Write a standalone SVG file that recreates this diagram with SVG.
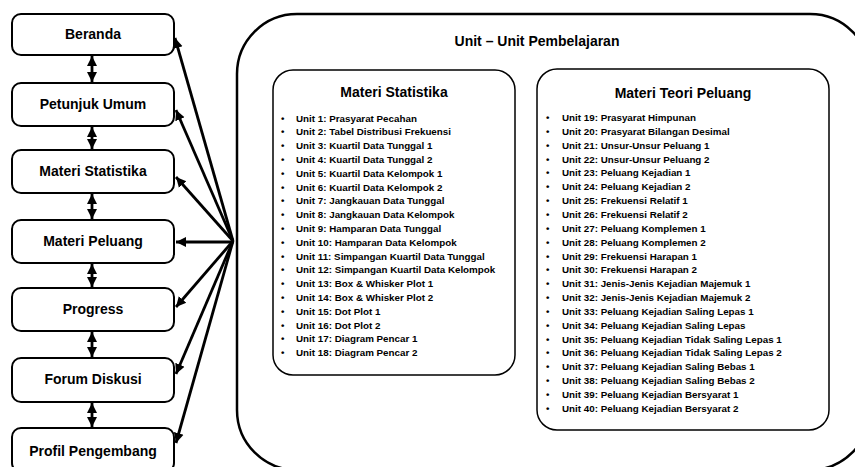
<svg xmlns="http://www.w3.org/2000/svg" width="855" height="467" viewBox="0 0 855 467">
<style>
.node{fill:#fff;stroke:#000;stroke-width:2}
.lbl{font-family:"Liberation Sans",Arial,sans-serif;font-weight:bold;font-size:14px;fill:#000;text-anchor:middle}
.big{fill:#fff;stroke:#000;stroke-width:2.5}
.inner{fill:#fff;stroke:#000;stroke-width:1.5}
.ttl{font-family:"Liberation Sans",Arial,sans-serif;font-weight:bold;font-size:14px;fill:#000;text-anchor:middle}
.li{font-family:"Liberation Sans",Arial,sans-serif;font-weight:bold;font-size:9.8px;fill:#000}
.conn{stroke:#000;stroke-width:2.8;fill:none}
</style>
<defs>
<marker id="ah" markerUnits="userSpaceOnUse" markerWidth="12" markerHeight="12" viewBox="0 0 12 12" refX="10" refY="6" orient="auto-start-reverse">
<path d="M0,1 L10,6 L0,11 Z" fill="#000"/>
</marker>
</defs>
<rect width="855" height="467" fill="#fff"/>

<g id="units">
<rect class="big" x="237" y="14" width="633" height="456" rx="60" ry="60"/>
<text class="ttl" x="537" y="46">Unit – Unit Pembelajaran</text>
</g>

<g id="materi-statistika-box">
<rect class="inner" x="273" y="70" width="242" height="305" rx="20" ry="20"/>
<text class="ttl" x="394" y="97">Materi Statistika</text>
<g class="li">
<text x="281" y="121.5">•</text><text x="296" y="121.5">Unit 1: Prasyarat Pecahan</text>
<text x="281" y="135.3">•</text><text x="296" y="135.3">Unit 2: Tabel Distribusi Frekuensi</text>
<text x="281" y="149.1">•</text><text x="296" y="149.1">Unit 3: Kuartil Data Tunggal 1</text>
<text x="281" y="162.9">•</text><text x="296" y="162.9">Unit 4: Kuartil Data Tunggal 2</text>
<text x="281" y="176.7">•</text><text x="296" y="176.7">Unit 5: Kuartil Data Kelompok 1</text>
<text x="281" y="190.5">•</text><text x="296" y="190.5">Unit 6: Kuartil Data Kelompok 2</text>
<text x="281" y="204.3">•</text><text x="296" y="204.3">Unit 7: Jangkauan Data Tunggal</text>
<text x="281" y="218.1">•</text><text x="296" y="218.1">Unit 8: Jangkauan Data Kelompok</text>
<text x="281" y="231.9">•</text><text x="296" y="231.9">Unit 9: Hamparan Data Tunggal</text>
<text x="281" y="245.7">•</text><text x="296" y="245.7">Unit 10: Hamparan Data Kelompok</text>
<text x="281" y="259.5">•</text><text x="296" y="259.5">Unit 11: Simpangan Kuartil Data Tunggal</text>
<text x="281" y="273.3">•</text><text x="296" y="273.3">Unit 12: Simpangan Kuartil Data Kelompok</text>
<text x="281" y="287.1">•</text><text x="296" y="287.1">Unit 13: Box &amp; Whisker Plot 1</text>
<text x="281" y="300.9">•</text><text x="296" y="300.9">Unit 14: Box &amp; Whisker Plot 2</text>
<text x="281" y="314.7">•</text><text x="296" y="314.7">Unit 15: Dot Plot 1</text>
<text x="281" y="328.5">•</text><text x="296" y="328.5">Unit 16: Dot Plot 2</text>
<text x="281" y="342.3">•</text><text x="296" y="342.3">Unit 17: Diagram Pencar 1</text>
<text x="281" y="356.1">•</text><text x="296" y="356.1">Unit 18: Diagram Pencar 2</text>
</g>
</g>

<g id="materi-teori-peluang-box">
<rect class="inner" x="537" y="69" width="292" height="361" rx="20" ry="20"/>
<text class="ttl" x="683" y="98">Materi Teori Peluang</text>
<g class="li">
<text x="546" y="121">•</text><text x="562" y="121">Unit 19: Prasyarat Himpunan</text>
<text x="546" y="134.85">•</text><text x="562" y="134.85">Unit 20: Prasyarat Bilangan Desimal</text>
<text x="546" y="148.7">•</text><text x="562" y="148.7">Unit 21: Unsur-Unsur Peluang 1</text>
<text x="546" y="162.55">•</text><text x="562" y="162.55">Unit 22: Unsur-Unsur Peluang 2</text>
<text x="546" y="176.4">•</text><text x="562" y="176.4">Unit 23: Peluang Kejadian 1</text>
<text x="546" y="190.25">•</text><text x="562" y="190.25">Unit 24: Peluang Kejadian 2</text>
<text x="546" y="204.1">•</text><text x="562" y="204.1">Unit 25: Frekuensi Relatif 1</text>
<text x="546" y="217.95">•</text><text x="562" y="217.95">Unit 26: Frekuensi Relatif 2</text>
<text x="546" y="231.8">•</text><text x="562" y="231.8">Unit 27: Peluang Komplemen 1</text>
<text x="546" y="245.65">•</text><text x="562" y="245.65">Unit 28: Peluang Komplemen 2</text>
<text x="546" y="259.5">•</text><text x="562" y="259.5">Unit 29: Frekuensi Harapan 1</text>
<text x="546" y="273.35">•</text><text x="562" y="273.35">Unit 30: Frekuensi Harapan 2</text>
<text x="546" y="287.2">•</text><text x="562" y="287.2">Unit 31: Jenis-Jenis Kejadian Majemuk 1</text>
<text x="546" y="301.05">•</text><text x="562" y="301.05">Unit 32: Jenis-Jenis Kejadian Majemuk 2</text>
<text x="546" y="314.9">•</text><text x="562" y="314.9">Unit 33: Peluang Kejadian Saling Lepas 1</text>
<text x="546" y="328.75">•</text><text x="562" y="328.75">Unit 34: Peluang Kejadian Saling Lepas</text>
<text x="546" y="342.6">•</text><text x="562" y="342.6">Unit 35: Peluang Kejadian Tidak Saling Lepas 1</text>
<text x="546" y="356.45">•</text><text x="562" y="356.45">Unit 36: Peluang Kejadian Tidak Saling Lepas 2</text>
<text x="546" y="370.3">•</text><text x="562" y="370.3">Unit 37: Peluang Kejadian Saling Bebas 1</text>
<text x="546" y="384.15">•</text><text x="562" y="384.15">Unit 38: Peluang Kejadian Saling Bebas 2</text>
<text x="546" y="398">•</text><text x="562" y="398">Unit 39: Peluang Kejadian Bersyarat 1</text>
<text x="546" y="411.85">•</text><text x="562" y="411.85">Unit 40: Peluang Kejadian Bersyarat 2</text>
</g>
</g>

<g id="connectors">
<line class="conn" x1="92" y1="56" x2="92" y2="82" marker-start="url(#ah)" marker-end="url(#ah)"/>
<line class="conn" x1="92" y1="127" x2="92" y2="149" marker-start="url(#ah)" marker-end="url(#ah)"/>
<line class="conn" x1="92" y1="194" x2="92" y2="219" marker-start="url(#ah)" marker-end="url(#ah)"/>
<line class="conn" x1="92" y1="264" x2="92" y2="287" marker-start="url(#ah)" marker-end="url(#ah)"/>
<line class="conn" x1="92" y1="332" x2="92" y2="357" marker-start="url(#ah)" marker-end="url(#ah)"/>
<line class="conn" x1="92" y1="403" x2="92" y2="427" marker-start="url(#ah)" marker-end="url(#ah)"/>
<line class="conn" x1="233" y1="241" x2="175" y2="38" marker-end="url(#ah)"/>
<line class="conn" x1="233" y1="241" x2="176" y2="110" marker-end="url(#ah)"/>
<line class="conn" x1="233" y1="241" x2="176" y2="177" marker-end="url(#ah)"/>
<line class="conn" x1="233" y1="242" x2="176" y2="242" marker-end="url(#ah)"/>
<line class="conn" x1="233" y1="241" x2="176" y2="307" marker-end="url(#ah)"/>
<line class="conn" x1="233" y1="241" x2="176" y2="374" marker-end="url(#ah)"/>
<line class="conn" x1="233" y1="241" x2="176" y2="443" marker-end="url(#ah)"/>
</g>

<g id="beranda"><rect class="node" x="12" y="14" width="162" height="41" rx="9"/><text class="lbl" x="93" y="39">Beranda</text></g>
<g id="petunjuk-umum"><rect class="node" x="12" y="83" width="162" height="43" rx="9"/><text class="lbl" x="93" y="109">Petunjuk Umum</text></g>
<g id="materi-statistika"><rect class="node" x="12" y="150" width="162" height="43" rx="9"/><text class="lbl" x="93" y="176">Materi Statistika</text></g>
<g id="materi-peluang"><rect class="node" x="12" y="220" width="162" height="43" rx="9"/><text class="lbl" x="93" y="246">Materi Peluang</text></g>
<g id="progress"><rect class="node" x="12" y="288" width="162" height="43" rx="9"/><text class="lbl" x="93" y="314">Progress</text></g>
<g id="forum-diskusi"><rect class="node" x="12" y="358" width="162" height="44" rx="9"/><text class="lbl" x="93" y="384">Forum Diskusi</text></g>
<g id="profil-pengembang"><rect class="node" x="12" y="428" width="162" height="44" rx="9"/><text class="lbl" x="93" y="456">Profil Pengembang</text></g>
</svg>
